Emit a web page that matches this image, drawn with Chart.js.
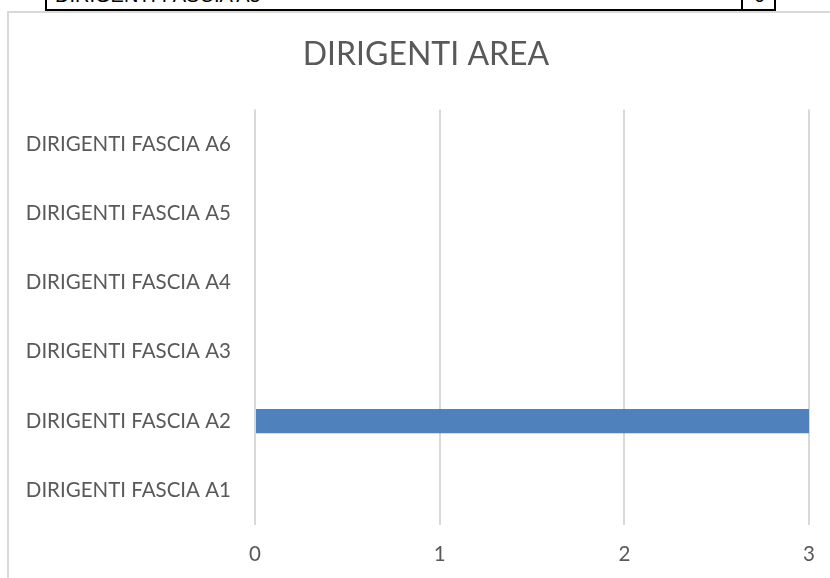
<!DOCTYPE html>
<html>
<head>
<meta charset="utf-8">
<script src="https://cdn.jsdelivr.net/npm/chart.js@4"></script>
<style>
  body { margin: 0; background: #fff; overflow: hidden; }
  #wrap { position: relative; width: 830px; height: 578px; }
  #box { position: absolute; left: 7px; top: 11px; width: 840px; height: 600px; border: 2px solid #d9d9d9; box-sizing: border-box; }
  #table { position: absolute; left: 45px; top: -20px; width: 731px; height: 31px; border: 2px solid #000; box-sizing: border-box; overflow: hidden; font-family: "Liberation Sans", Arial, sans-serif; font-size: 20px; }
  #table .name { position: absolute; left: 8px; top: 2px; }
  #table .cell { position: absolute; left: 694px; top: -2px; width: 2px; height: 40px; background: #000; }
  #table .val { position: absolute; left: 707px; top: 2px; }
  canvas { position: absolute; left: 0; top: 0; }
</style>
</head>
<body>
<div id="wrap">
  <div id="box"></div>
  <div id="table"><span class="name">DIRIGENTI FASCIA A5</span><div class="cell"></div><span class="val">0</span></div>
  <canvas id="chart" width="830" height="578"></canvas>
</div>
<script>
// categories and values (A1 at bottom)
const categories = ['DIRIGENTI FASCIA A1', 'DIRIGENTI FASCIA A2', 'DIRIGENTI FASCIA A3',
                    'DIRIGENTI FASCIA A4', 'DIRIGENTI FASCIA A5', 'DIRIGENTI FASCIA A6'];
const values = [0, 3, 0, 0, 0, 0];
const xTicks = [0, 1, 2, 3];

const textColor = '#595959';
const fontFamily = 'Lato, "Open Sans", sans-serif';

// the title is centred on the whole chart frame, not on the plot
const centerTitle = {
    id: 'centerTitle',
    afterLayout(chart) {
        if (chart.titleBlock) {
            chart.titleBlock.left = 41;
            chart.titleBlock.right = 811;
        }
    }
};

const ctx = document.getElementById('chart').getContext('2d');
new Chart(ctx, {
    type: 'bar',
    data: {
        labels: categories,
        datasets: [{
            label: 'DIRIGENTI AREA',
            data: values,
            backgroundColor: '#4f81bd',
            barPercentage: 0.35,
            categoryPercentage: 1
        }]
    },
    plugins: [centerTitle],
    options: {
        indexAxis: 'y',
        responsive: false,
        animation: false,
        layout: { padding: { top: 19, right: 21, left: 0, bottom: 0 } },
        plugins: {
            legend: { display: false },
            tooltip: { enabled: false },
            title: {
                display: true,
                text: 'DIRIGENTI AREA',
                color: textColor,
                font: { family: fontFamily, size: 32, weight: 'normal' },
                padding: { top: 16, bottom: 36 }
            }
        },
        scales: {
            x: {
                min: xTicks[0],
                max: xTicks[xTicks.length - 1],
                afterBuildTicks: scale => { scale.ticks = xTicks.map(v => ({ value: v })); },
                afterFit: scale => {
                    scale.height = 53;
                    scale.paddingLeft = 0;
                    scale.paddingRight = 0;
                },
                grid: { color: '#d9d9d9', lineWidth: 2, drawTicks: false },
                border: { display: false },
                ticks: { color: textColor, padding: 17, font: { family: fontFamily, size: 20.5 } }
            },
            y: {
                reverse: true,
                afterFit: scale => { scale.width = 255; },
                grid: { display: false, drawTicks: false },
                border: { display: false },
                ticks: { color: textColor, padding: 24, font: { family: fontFamily, size: 20.5 } }
            }
        }
    }
});
</script>
</body>
</html>
